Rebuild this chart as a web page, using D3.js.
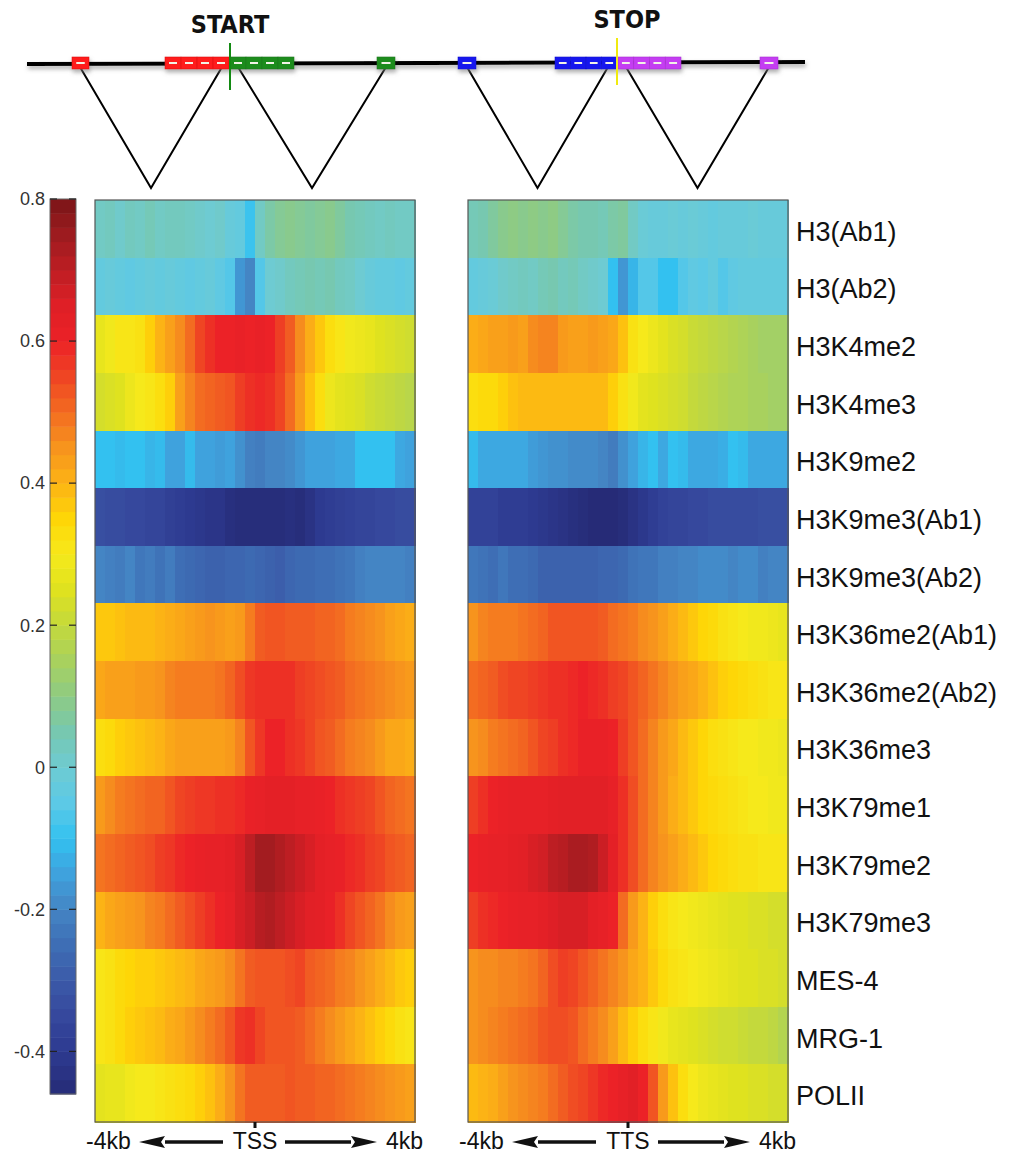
<!DOCTYPE html>
<html>
<head>
<meta charset="utf-8">
<script src="https://cdn.jsdelivr.net/npm/d3@7"></script>
<style>
  body { margin: 0; background: #fff; }
  svg { display: block; font-family: "Liberation Sans", Arial, sans-serif; }
</style>
</head>
<body>
<div id="chart"></div>
<script>
// --- data
const markers = ['H3(Ab1)', 'H3(Ab2)', 'H3K4me2', 'H3K4me3', 'H3K9me2', 'H3K9me3(Ab1)',
  'H3K9me3(Ab2)', 'H3K36me2(Ab1)', 'H3K36me2(Ab2)', 'H3K36me3', 'H3K79me1', 'H3K79me2',
  'H3K79me3', 'MES-4', 'MRG-1', 'POLII'];

const cbTicks = [0.8, 0.6, 0.4, 0.2, 0, -0.2, -0.4];
const cbDomain = [-0.46, 0.8];

const cmapStops = [-0.46, -0.4, -0.35, -0.3, -0.25, -0.2, -0.15, -0.1, -0.05, 0, 0.05, 0.1, 0.15,
  0.2, 0.25, 0.3, 0.35, 0.4, 0.45, 0.5, 0.55, 0.6, 0.65, 0.7, 0.75, 0.8];
const cmapColors = ['#262b77', '#2d3a90', '#36489d', '#3b5aa8', '#3e6eb5', '#4485c4', '#3fa2dd',
  '#33c1f0', '#5cc9e6', '#6ecbd2', '#77c8b0', '#8ecb84', '#a8d15e', '#c4d93c', '#dfe21f',
  '#f6e91b', '#fed607', '#fcb315', '#f7941d', '#f36c21', '#ef4523', '#ec2227', '#df1f26',
  '#bd1e23', '#9d1b1f', '#7a1517'];

// 32 bins from -4kb to +4kb around the TSS
const tssProfiles = [
  [0.02,0.03,0.01,0.03,0.02,0.04,0.02,0.03,0.03,0.02,0.01,0.00,0.01,-0.02,-0.03,-0.09,0.02,0.06,0.08,0.09,0.08,0.07,0.08,0.09,0.07,0.05,0.04,0.03,0.02,0.03,0.02,0.02],
  [-0.03,-0.02,-0.03,-0.04,-0.03,-0.02,-0.03,-0.02,-0.03,-0.04,-0.03,-0.02,-0.04,-0.06,-0.17,-0.20,-0.06,0.00,0.01,0.03,0.04,0.05,0.04,0.05,0.03,0.02,0.00,-0.02,-0.03,-0.03,-0.04,-0.03],
  [0.27,0.29,0.31,0.31,0.32,0.36,0.40,0.43,0.46,0.50,0.55,0.58,0.60,0.60,0.61,0.60,0.61,0.60,0.56,0.52,0.46,0.41,0.37,0.33,0.31,0.29,0.28,0.27,0.25,0.24,0.23,0.22],
  [0.23,0.24,0.25,0.28,0.30,0.31,0.33,0.36,0.43,0.47,0.50,0.51,0.52,0.53,0.56,0.58,0.59,0.58,0.55,0.50,0.44,0.38,0.33,0.28,0.26,0.25,0.24,0.22,0.21,0.20,0.19,0.18],
  [-0.10,-0.10,-0.11,-0.10,-0.10,-0.12,-0.11,-0.15,-0.15,-0.11,-0.15,-0.15,-0.16,-0.15,-0.18,-0.21,-0.22,-0.20,-0.20,-0.19,-0.17,-0.15,-0.15,-0.15,-0.14,-0.14,-0.10,-0.10,-0.10,-0.10,-0.14,-0.15],
  [-0.33,-0.34,-0.34,-0.35,-0.35,-0.36,-0.36,-0.38,-0.39,-0.40,-0.41,-0.42,-0.42,-0.44,-0.45,-0.45,-0.45,-0.45,-0.45,-0.44,-0.45,-0.43,-0.40,-0.39,-0.38,-0.37,-0.36,-0.36,-0.35,-0.35,-0.34,-0.34],
  [-0.20,-0.21,-0.22,-0.20,-0.23,-0.22,-0.24,-0.22,-0.25,-0.26,-0.27,-0.28,-0.28,-0.27,-0.27,-0.26,-0.27,-0.28,-0.29,-0.27,-0.26,-0.26,-0.25,-0.25,-0.24,-0.23,-0.21,-0.20,-0.20,-0.20,-0.20,-0.21],
  [0.37,0.37,0.38,0.39,0.39,0.39,0.40,0.41,0.42,0.43,0.44,0.45,0.44,0.43,0.44,0.48,0.52,0.53,0.53,0.52,0.52,0.52,0.51,0.51,0.50,0.48,0.47,0.46,0.45,0.43,0.42,0.41],
  [0.42,0.43,0.43,0.43,0.44,0.44,0.45,0.47,0.48,0.48,0.48,0.48,0.49,0.51,0.54,0.57,0.58,0.58,0.58,0.58,0.56,0.55,0.54,0.53,0.52,0.50,0.49,0.48,0.47,0.46,0.45,0.44],
  [0.33,0.34,0.36,0.37,0.38,0.39,0.40,0.42,0.43,0.43,0.43,0.43,0.43,0.44,0.47,0.53,0.57,0.60,0.60,0.58,0.57,0.55,0.53,0.52,0.50,0.48,0.47,0.46,0.44,0.42,0.42,0.41],
  [0.44,0.46,0.48,0.49,0.50,0.51,0.51,0.53,0.55,0.56,0.57,0.57,0.58,0.58,0.59,0.61,0.62,0.63,0.63,0.63,0.62,0.62,0.61,0.60,0.58,0.57,0.56,0.55,0.53,0.51,0.50,0.49],
  [0.49,0.50,0.51,0.52,0.53,0.54,0.56,0.57,0.59,0.60,0.61,0.62,0.62,0.63,0.66,0.70,0.74,0.74,0.72,0.70,0.68,0.66,0.63,0.62,0.61,0.59,0.58,0.56,0.55,0.53,0.52,0.51],
  [0.40,0.42,0.43,0.44,0.45,0.47,0.48,0.50,0.52,0.54,0.56,0.58,0.60,0.62,0.66,0.68,0.71,0.72,0.70,0.68,0.66,0.64,0.63,0.61,0.58,0.55,0.53,0.51,0.49,0.46,0.44,0.43],
  [0.31,0.32,0.34,0.35,0.36,0.36,0.37,0.38,0.39,0.40,0.42,0.43,0.44,0.46,0.49,0.52,0.53,0.53,0.53,0.54,0.55,0.52,0.51,0.50,0.48,0.47,0.45,0.43,0.41,0.39,0.37,0.36],
  [0.31,0.32,0.34,0.36,0.37,0.38,0.39,0.41,0.42,0.44,0.46,0.48,0.50,0.53,0.57,0.58,0.55,0.53,0.53,0.53,0.52,0.50,0.48,0.46,0.44,0.42,0.40,0.38,0.36,0.34,0.32,0.31],
  [0.26,0.27,0.27,0.29,0.30,0.30,0.31,0.32,0.33,0.34,0.36,0.38,0.41,0.45,0.49,0.52,0.52,0.52,0.52,0.53,0.52,0.52,0.51,0.51,0.50,0.49,0.48,0.47,0.46,0.45,0.44,0.43]
];

// 32 bins from -4kb to +4kb around the TTS
const ttsProfiles = [
  [0.04,0.05,0.07,0.09,0.10,0.09,0.10,0.09,0.10,0.08,0.06,0.05,0.05,0.04,0.06,0.07,0.02,-0.01,-0.02,-0.02,-0.01,-0.02,-0.01,-0.02,-0.03,-0.02,-0.02,-0.02,-0.01,-0.02,-0.02,-0.02],
  [-0.03,-0.02,-0.01,0.01,0.02,0.03,0.02,0.04,0.05,0.03,0.04,0.02,0.01,0.00,-0.10,-0.17,-0.12,-0.06,-0.06,-0.10,-0.10,-0.06,-0.04,-0.05,-0.03,-0.06,-0.04,-0.03,-0.03,-0.03,-0.03,-0.03],
  [0.41,0.42,0.43,0.43,0.44,0.43,0.46,0.47,0.47,0.44,0.43,0.43,0.44,0.43,0.42,0.38,0.32,0.30,0.28,0.26,0.24,0.23,0.21,0.20,0.19,0.18,0.17,0.16,0.15,0.14,0.14,0.14],
  [0.33,0.34,0.34,0.36,0.38,0.39,0.39,0.39,0.39,0.39,0.39,0.39,0.39,0.39,0.36,0.32,0.29,0.26,0.25,0.24,0.23,0.22,0.20,0.19,0.18,0.17,0.16,0.16,0.15,0.15,0.14,0.14],
  [-0.11,-0.14,-0.14,-0.14,-0.14,-0.14,-0.16,-0.17,-0.18,-0.18,-0.19,-0.19,-0.19,-0.20,-0.22,-0.18,-0.15,-0.12,-0.10,-0.14,-0.10,-0.11,-0.14,-0.14,-0.14,-0.13,-0.10,-0.11,-0.14,-0.14,-0.14,-0.14],
  [-0.37,-0.37,-0.37,-0.39,-0.39,-0.39,-0.40,-0.41,-0.42,-0.43,-0.44,-0.45,-0.46,-0.46,-0.46,-0.45,-0.43,-0.41,-0.39,-0.37,-0.36,-0.36,-0.35,-0.35,-0.34,-0.34,-0.34,-0.34,-0.34,-0.33,-0.33,-0.33],
  [-0.23,-0.24,-0.25,-0.23,-0.25,-0.25,-0.26,-0.28,-0.28,-0.28,-0.28,-0.28,-0.28,-0.27,-0.27,-0.26,-0.24,-0.23,-0.23,-0.21,-0.21,-0.20,-0.20,-0.19,-0.19,-0.19,-0.20,-0.19,-0.19,-0.21,-0.20,-0.20],
  [0.45,0.47,0.48,0.48,0.48,0.49,0.50,0.51,0.53,0.53,0.53,0.53,0.53,0.52,0.50,0.49,0.48,0.46,0.45,0.43,0.41,0.39,0.37,0.35,0.34,0.32,0.31,0.30,0.29,0.29,0.28,0.27],
  [0.50,0.51,0.52,0.54,0.55,0.55,0.56,0.57,0.58,0.58,0.59,0.60,0.59,0.58,0.56,0.55,0.53,0.51,0.49,0.47,0.45,0.43,0.42,0.40,0.38,0.36,0.35,0.34,0.33,0.32,0.31,0.31],
  [0.45,0.46,0.48,0.49,0.50,0.51,0.53,0.55,0.56,0.58,0.59,0.61,0.61,0.61,0.60,0.56,0.53,0.50,0.47,0.44,0.42,0.39,0.37,0.35,0.33,0.32,0.31,0.30,0.30,0.29,0.29,0.28],
  [0.56,0.58,0.60,0.61,0.62,0.62,0.62,0.62,0.63,0.64,0.64,0.64,0.64,0.64,0.62,0.58,0.54,0.50,0.47,0.44,0.41,0.39,0.37,0.35,0.34,0.33,0.32,0.31,0.30,0.30,0.29,0.29],
  [0.60,0.61,0.62,0.62,0.63,0.64,0.66,0.67,0.70,0.71,0.73,0.73,0.72,0.68,0.63,0.58,0.54,0.50,0.47,0.45,0.43,0.41,0.39,0.37,0.35,0.34,0.33,0.32,0.32,0.31,0.31,0.31],
  [0.56,0.58,0.59,0.60,0.61,0.62,0.62,0.63,0.65,0.66,0.66,0.66,0.63,0.62,0.60,0.50,0.44,0.40,0.36,0.33,0.31,0.30,0.29,0.28,0.27,0.26,0.25,0.25,0.24,0.24,0.23,0.23],
  [0.45,0.46,0.46,0.47,0.47,0.48,0.49,0.51,0.54,0.56,0.55,0.53,0.51,0.49,0.47,0.45,0.42,0.40,0.37,0.34,0.32,0.31,0.30,0.29,0.28,0.27,0.26,0.25,0.25,0.24,0.24,0.23],
  [0.45,0.46,0.47,0.48,0.49,0.50,0.51,0.53,0.54,0.54,0.53,0.50,0.48,0.46,0.43,0.39,0.36,0.33,0.31,0.29,0.27,0.26,0.25,0.24,0.23,0.22,0.22,0.21,0.20,0.20,0.19,0.17],
  [0.39,0.40,0.41,0.43,0.45,0.46,0.47,0.48,0.50,0.52,0.54,0.55,0.57,0.59,0.60,0.62,0.64,0.60,0.53,0.44,0.38,0.33,0.30,0.28,0.27,0.26,0.25,0.25,0.24,0.24,0.23,0.23]
];

// gene model along the chromosome line (diagram units)
const exons = [
  { from: 45, to: 62, parts: 1, color: '#ff1a1a' },
  { from: 138, to: 202, parts: 4, color: '#ff1a1a' },
  { from: 203, to: 267, parts: 4, color: '#1e8c1e' },
  { from: 350, to: 368, parts: 1, color: '#1e8c1e' },
  { from: 431, to: 449, parts: 1, color: '#1414ee' },
  { from: 528, to: 590, parts: 4, color: '#1414ee' },
  { from: 591, to: 654, parts: 4, color: '#c43cf2' },
  { from: 733, to: 751, parts: 1, color: '#c43cf2' }
];
const splices = [[53, 195], [211, 359], [440, 581], [599, 742]];
const sites = [
  { pos: 203, label: 'START', color: '#138a13' },
  { pos: 590, label: 'STOP', color: '#f0ea10' }
];

const width = 1025;
const height = 1154;

const svg = d3.select('#chart')
  .append('svg')
  .attr('width', width)
  .attr('height', height)
  .attr('viewBox', `0 0 ${width} ${height}`);

const color = d3.scaleLinear().domain(cmapStops).range(cmapColors).clamp(true);

// --- top gene diagram
const geneX = d3.scaleLinear().domain([0, 778]).range([27, 805]);
const lineY = 63;
const apexY = 188;

const defs = svg.append('defs');
const shadow = defs.append('filter').attr('id', 'shadow')
  .attr('x', '-5%').attr('y', '-100%').attr('width', '110%').attr('height', '300%');
shadow.append('feDropShadow')
  .attr('dx', 1).attr('dy', 3).attr('stdDeviation', 2)
  .attr('flood-color', '#777').attr('flood-opacity', 0.6);

const gene = svg.append('g').attr('class', 'gene');

gene.selectAll('path.splice')
  .data(splices)
  .join('path')
  .attr('class', 'splice')
  .attr('d', d => `M${geneX(d[0])},${lineY + 4}L${geneX((d[0] + d[1]) / 2)},${apexY}L${geneX(d[1])},${lineY + 4}`)
  .attr('fill', 'none')
  .attr('stroke', '#000')
  .attr('stroke-width', 2);

const track = gene.append('g').attr('filter', 'url(#shadow)');
track.append('line')
  .attr('x1', geneX(0)).attr('x2', geneX(778))
  .attr('y1', lineY + 1).attr('y2', lineY - 1)
  .attr('stroke', '#000').attr('stroke-width', 4);

exons.forEach(ex => {
  const segW = (geneX(ex.to) - geneX(ex.from)) / ex.parts;
  d3.range(ex.parts).forEach(i => {
    const x = geneX(ex.from) + i * segW;
    track.append('rect')
      .attr('x', x).attr('y', lineY - 6)
      .attr('width', segW).attr('height', 12)
      .attr('fill', ex.color)
      .attr('stroke', d3.color(ex.color).darker(0.4))
      .attr('stroke-width', 0.6);
    track.append('line')
      .attr('x1', x + segW * 0.25).attr('x2', x + segW * 0.75)
      .attr('y1', lineY).attr('y2', lineY)
      .attr('stroke', '#f2f2e6').attr('stroke-width', 2);
  });
});

sites.forEach((s, i) => {
  const top = i === 0 ? 43 : 38;
  gene.append('line')
    .attr('x1', geneX(s.pos)).attr('x2', geneX(s.pos))
    .attr('y1', top).attr('y2', top + 47)
    .attr('stroke', s.color).attr('stroke-width', 2);
  gene.append('text')
    .attr('x', geneX(s.pos) + (i === 0 ? 0 : 10))
    .attr('y', i === 0 ? 33 : 28)
    .attr('text-anchor', 'middle')
    .style('font-family', '"Liberation Sans Narrow", "DejaVu Sans Condensed", sans-serif')
    .style('font-weight', 'bold')
    .style('font-size', '25px')
    .attr('fill', '#111')
    .text(s.label);
});

// --- heatmaps
const rowTop = 200;
const rowBottom = 1122;
const yScale = d3.scaleBand().domain(markers).range([rowTop, rowBottom]);

const panels = [
  { x0: 95, x1: 415, profiles: tssProfiles, site: 'TSS' },
  { x0: 468, x1: 788, profiles: ttsProfiles, site: 'TTS' }
];

panels.forEach(p => {
  const nBins = p.profiles[0].length;
  const xScale = d3.scaleBand().domain(d3.range(nBins)).range([p.x0, p.x1]);
  const cx = (p.x0 + p.x1) / 2;

  const cells = markers.flatMap((m, r) => p.profiles[r].map((v, c) => ({ m, c, v })));
  const hg = svg.append('g').attr('class', 'heat');
  hg.selectAll('rect.cell')
    .data(cells)
    .join('rect')
    .attr('class', 'cell')
    .attr('x', d => xScale(d.c))
    .attr('y', d => yScale(d.m))
    .attr('width', xScale.bandwidth() + 0.6)
    .attr('height', yScale.bandwidth() + 0.6)
    .attr('fill', d => color(d.v))
    .attr('shape-rendering', 'crispEdges');

  hg.append('rect')
    .attr('x', p.x0).attr('y', rowTop)
    .attr('width', p.x1 - p.x0).attr('height', rowBottom - rowTop)
    .attr('fill', 'none').attr('stroke', '#555').attr('stroke-width', 1.2);

  hg.append('rect')
    .attr('x', cx - 1.5).attr('y', rowBottom)
    .attr('width', 3).attr('height', 6)
    .attr('fill', '#111');

  // bottom labels with arrows
  const ay = 1142;
  const ax = svg.append('g').attr('class', 'x-labels').attr('fill', '#111');
  ax.append('text').attr('x', p.x0 - 9).attr('y', 1149)
    .style('font-size', '23px').text('-4kb');
  ax.append('text').attr('x', cx).attr('y', 1149).attr('text-anchor', 'middle')
    .style('font-size', '23px').text(p.site);
  ax.append('text').attr('x', p.x1 + 8).attr('y', 1149).attr('text-anchor', 'end')
    .style('font-size', '23px').text('4kb');

  const arrow = (tip, tail) => {
    const dir = Math.sign(tail - tip);
    const headEnd = tip + dir * 26;
    ax.append('line').attr('x1', headEnd).attr('x2', tail)
      .attr('y1', ay).attr('y2', ay).attr('stroke', '#111').attr('stroke-width', 3.5);
    ax.append('path')
      .attr('d', `M${tip},${ay}L${headEnd},${ay - 6}L${headEnd - dir * 4},${ay}L${headEnd},${ay + 6}Z`);
  };
  arrow(p.x0 + 44, cx - 32);
  arrow(p.x1 - 38, cx + 30);
});

// row labels
svg.append('g').attr('class', 'row-labels')
  .selectAll('text')
  .data(markers)
  .join('text')
  .attr('x', 796)
  .attr('y', d => yScale(d) + yScale.bandwidth() / 2 + 12)
  .attr('fill', '#111')
  .style('font-size', '27px')
  .text(d => d);

// --- colorbar
const cbX = 50;
const cbW = 26;
const cbScale = d3.scaleLinear().domain(cbDomain).range([1094, 199]);
const cbStep = 0.02;
const cbBands = d3.range(cbDomain[0], cbDomain[1] - 1e-9, cbStep);

const cb = svg.append('g').attr('class', 'colorbar');
cb.selectAll('rect.band')
  .data(cbBands)
  .join('rect')
  .attr('class', 'band')
  .attr('x', cbX)
  .attr('y', d => cbScale(Math.min(d + cbStep, cbDomain[1])))
  .attr('width', cbW)
  .attr('height', d => cbScale(d) - cbScale(Math.min(d + cbStep, cbDomain[1])) + 0.5)
  .attr('fill', d => color(d + cbStep / 2));

cb.append('rect')
  .attr('x', cbX).attr('y', cbScale(cbDomain[1]))
  .attr('width', cbW).attr('height', cbScale(cbDomain[0]) - cbScale(cbDomain[1]))
  .attr('fill', 'none').attr('stroke', '#666').attr('stroke-width', 1);

const tickG = cb.selectAll('g.tick')
  .data(cbTicks)
  .join('g')
  .attr('class', 'tick')
  .attr('transform', d => `translate(0,${cbScale(d)})`);

tickG.append('line').attr('x1', cbX).attr('x2', cbX + 7)
  .attr('stroke', '#222').attr('stroke-width', 1.2);
tickG.append('line').attr('x1', cbX + cbW - 7).attr('x2', cbX + cbW)
  .attr('stroke', '#222').attr('stroke-width', 1.2);
tickG.append('text')
  .attr('x', cbX - 5)
  .attr('y', 0)
  .attr('dy', '0.35em')
  .attr('text-anchor', 'end')
  .attr('fill', '#333')
  .style('font-size', '18px')
  .text(d => d);
</script>
</body>
</html>
